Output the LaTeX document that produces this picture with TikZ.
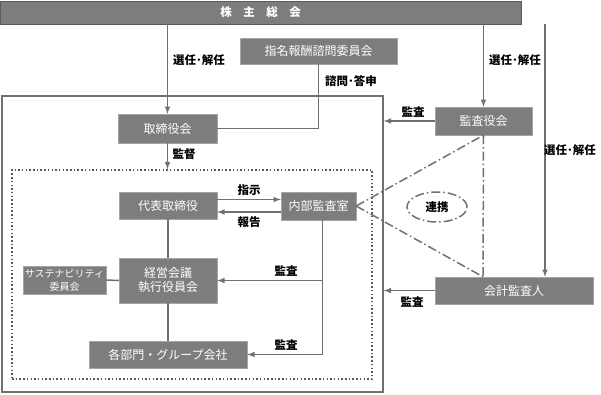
\documentclass[tikz,border=0pt]{standalone}
\usepackage{fontspec}
\setmainfont{Noto Sans CJK JP}
\usepackage{tikz}
\usetikzlibrary{shapes.geometric}

\definecolor{boxgray}{RGB}{125,125,125}
\definecolor{edgegray}{RGB}{165,165,165}
\definecolor{linegray}{RGB}{112,112,112}
\definecolor{bardark}{RGB}{90,90,90}

\begin{document}
\begin{tikzpicture}[
    x=1pt, y=-1pt,
    box/.style={draw=edgegray, rectangle, fill=boxgray, text=white, align=center, inner sep=0pt, font=\fontsize{12}{14}\selectfont},
    lbl/.style={font=\bfseries\fontsize{11.5}{13}\selectfont, inner sep=0pt},
    line/.style={draw=linegray, -latex, line width=1.5pt},
    link/.style={draw=linegray, line width=1.5pt},
    tie/.style={draw=linegray, line width=1.5pt, dash pattern=on 9pt off 3pt on 1.5pt off 3pt}
]
    \useasboundingbox (0,0) rectangle (601,394);

    % top bar
    \node[box, draw=bardark, minimum width=521, minimum height=23, font=\bfseries\fontsize{11.5}{13}\selectfont] (gm) at (260.5,12.5) {株　主　総　会};

    % frames
    \node[draw=linegray, line width=1.5pt, minimum width=381, minimum height=296, inner sep=0pt] (outer) at (192.5,244) {};
    \node[draw=bardark, line width=1.5pt, dash pattern=on 1.5pt off 2.2pt, minimum width=360, minimum height=209, inner sep=0pt] (inner) at (192,274.5) {};

    % boxes
    \node[box, minimum width=157, minimum height=26] (nomcomm) at (318.5,51) {指名報酬諮問委員会};
    \node[box, minimum width=99, minimum height=29] (board) at (167.5,128.5) {取締役会};
    \node[box, minimum width=97, minimum height=28] (kansa) at (483.5,121) {監査役会};
    \node[box, minimum width=98, minimum height=27] (ceo) at (168,205.5) {代表取締役};
    \node[box, minimum width=75, minimum height=28] (audit) at (318.5,206) {内部監査室};
    \node[box, minimum width=98, minimum height=45] (mgmt) at (168,280.5) {経営会議\\執行役員会};
    \node[box, minimum width=83, minimum height=28, font=\fontsize{10}{13}\selectfont] (sust) at (64.5,280) {サステナビリティ\\委員会};
    \node[box, minimum width=158, minimum height=27] (depts) at (168,354.5) {各部門・グループ会社};
    \node[box, minimum width=158, minimum height=27] (acct) at (514,290.5) {会計監査人};

    \node[tie, ellipse, minimum width=60, minimum height=30, inner sep=0pt, font=\bfseries\fontsize{11.5}{13}\selectfont] (renkei) at (437,207) {連携};

    % connectors
    \draw[line] (board.north |- gm.south) -- (board.north);
    \draw[line] (kansa.north |- gm.south) -- (kansa.north);
    \draw[line] ([xshift=31]acct.north |- gm.south) -- ([xshift=31]acct.north);
    \draw[link] (nomcomm.south) |- (board.east);
    \draw[line] (kansa.west) -- (kansa.west -| outer.east);
    \draw[line] (board.south) -- (board.south |- inner.north);
    \draw[line] ([yshift=6]ceo.east) -- ([yshift=6]ceo.east -| audit.west);
    \draw[line] ([yshift=-6]audit.west) -- ([yshift=-6]audit.west -| ceo.east);
    \draw[link] (ceo.south) -- (mgmt.north);
    \draw[link] (mgmt.south) -- (depts.north);
    \draw[link] (sust.east) -- (mgmt.west);
    \draw[link] ([xshift=4]audit.south) -- ([xshift=4]audit.south |- depts.east);
    \draw[line] ([xshift=4]audit.south |- mgmt.east) -- (mgmt.east);
    \draw[line] ([xshift=4]audit.south |- depts.east) -- (depts.east);
    \draw[line] (acct.west) -- (acct.west -| outer.east);

    \draw[tie] (audit.east) -- (kansa.south);
    \draw[tie] (audit.east) -- ([xshift=-31]acct.north);
    \draw[tie] (kansa.south) -- ([xshift=-31]acct.north);

    % labels
    \node[lbl] (l_sel1) at (199,60) {選任･解任};
    \node[lbl] (l_sel2) at (515,60) {選任･解任};
    \node[lbl] (l_sel3) at (570,150) {選任･解任};
    \node[lbl] (l_consult) at (351,81) {諮問･答申};
    \node[lbl] (l_audit1) at (413,112) {監査};
    \node[lbl] (l_super) at (184,154) {監督};
    \node[lbl] (l_order) at (249,190) {指示};
    \node[lbl] (l_report) at (249,222) {報告};
    \node[lbl] (l_audit2) at (286,271) {監査};
    \node[lbl] (l_audit3) at (286,345) {監査};
    \node[lbl] (l_audit4) at (412,302) {監査};

\end{tikzpicture}
\end{document}
